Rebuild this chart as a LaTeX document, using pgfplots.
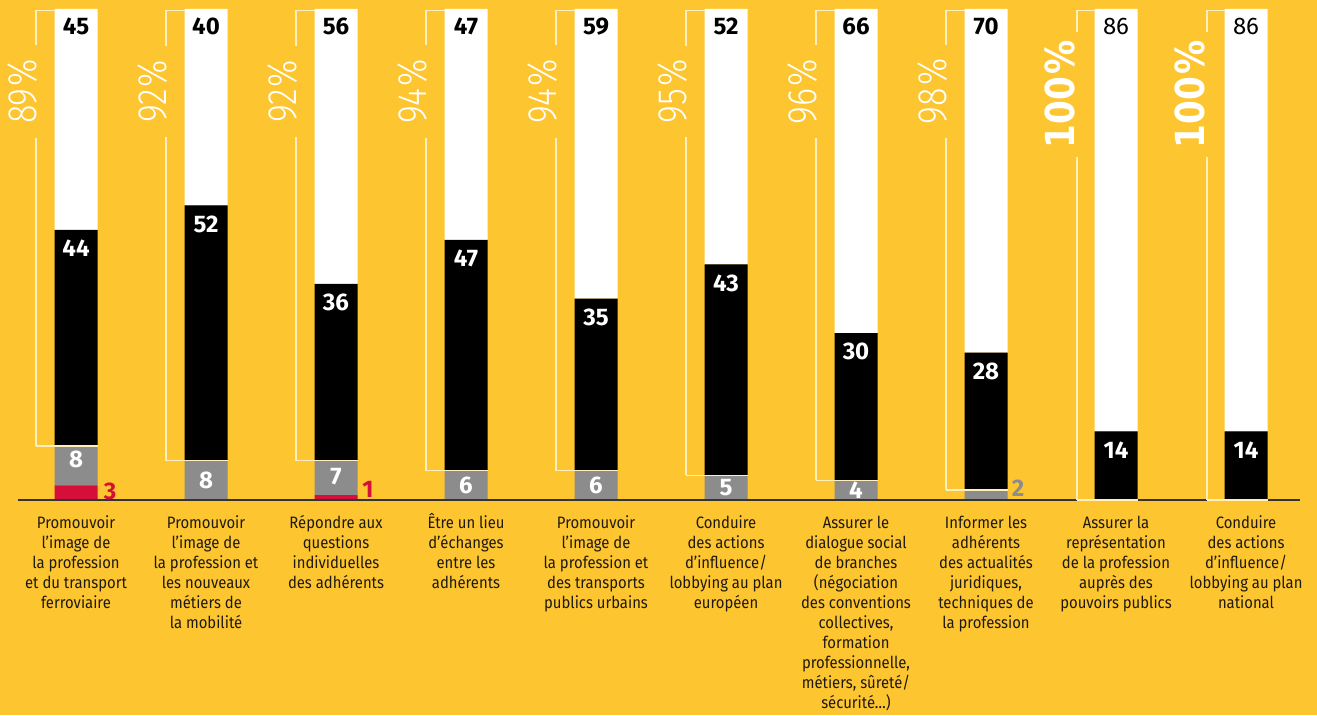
\documentclass[border=0pt]{standalone}
\usepackage{fontspec}
\setmainfont{Fira Sans}
\newfontfamily\labfont{Fira Sans}[FakeStretch=0.9]
\IfFontExistsTF{Fira Sans Light}{\newfontfamily\lightfont{Fira Sans Light}[FakeStretch=0.84]}{\newfontfamily\lightfont{DejaVu Sans}[FakeStretch=0.8]}
\IfFontExistsTF{DejaVu Sans Condensed}{\newfontfamily\hfont{DejaVu Sans Condensed}[FakeStretch=0.95]}{\newfontfamily\hfont{DejaVu Sans}[FakeStretch=0.85]}
\usepackage{pgfplots}
\pgfplotsset{compat=1.18}
\definecolor{bgc}{RGB}{253,197,48}
\definecolor{grayc}{RGB}{140,140,140}
\definecolor{redc}{RGB}{214,14,58}
\definecolor{brk}{RGB}{255,238,190}
\definecolor{labc}{RGB}{30,26,16}
\pgfplotsset{base/.style={width=1317pt, height=715pt, scale only axis,
  xmin=0, xmax=1317, ymin=-43.788, ymax=101.833,
  axis line style={draw=none}, ticks=none, clip=false}}
\begin{document}
\begin{tikzpicture}[
  num/.style={font=\bfseries\fontsize{24}{28}\selectfont, inner sep=0pt},
  pct/.style={rotate=90, fill=bgc, inner xsep=14pt, inner ysep=4pt, text=white, font=\lightfont\fontsize{41}{46}\selectfont},
  pcth/.style={rotate=90, fill=bgc, inner xsep=9pt, inner ysep=4pt, text=white, font=\hfont\bfseries\fontsize{40}{45}\selectfont},
  bk/.style={draw=brk, line width=1.4pt},
  lab/.style={align=center, anchor=north, inner sep=0pt, text=labc, font=\labfont\fontsize{16.5}{20}\selectfont},
]
\begin{axis}[base,
  axis background/.style={fill=bgc},
  ybar stacked, bar width=43pt,
]
\addplot[fill=redc, draw=none] coordinates {(76,3) (206,0) (336,1) (466,0) (596,0) (726,0) (856,0) (986,0) (1116,0) (1246,0)};
\addplot[fill=grayc, draw=none] coordinates {(76,8) (206,8) (336,7) (466,6) (596,6) (726,5) (856,4) (986,2) (1116,0) (1246,0)};
\addplot[fill=black, draw=none] coordinates {(76,44) (206,52) (336,36) (466,47) (596,35) (726,43) (856,30) (986,28) (1116,14) (1246,14)};
\addplot[fill=white, draw=none] coordinates {(76,45) (206,40) (336,56) (466,47) (596,59) (726,52) (856,66) (986,70) (1116,86) (1246,86)};
\end{axis}
\begin{axis}[base]
% baseline
\draw[line width=1.6pt, color=black!80] (axis cs:18,0) -- (axis cs:1300,0);

% brackets
\draw[bk] (axis cs:36,11) -- (axis cs:36,99.7) -- (axis cs:54.5,99.7); \draw[bk] (axis cs:36,11) -- (axis cs:97.5,11);
\draw[bk] (axis cs:166,8) -- (axis cs:166,99.7) -- (axis cs:184.5,99.7); \draw[bk] (axis cs:166,8) -- (axis cs:227.5,8);
\draw[bk] (axis cs:296,8) -- (axis cs:296,99.7) -- (axis cs:314.5,99.7); \draw[bk] (axis cs:296,8) -- (axis cs:357.5,8);
\draw[bk] (axis cs:426,6) -- (axis cs:426,99.7) -- (axis cs:444.5,99.7); \draw[bk] (axis cs:426,6) -- (axis cs:487.5,6);
\draw[bk] (axis cs:556,6) -- (axis cs:556,99.7) -- (axis cs:574.5,99.7); \draw[bk] (axis cs:556,6) -- (axis cs:617.5,6);
\draw[bk] (axis cs:686,5) -- (axis cs:686,99.7) -- (axis cs:704.5,99.7); \draw[bk] (axis cs:686,5) -- (axis cs:747.5,5);
\draw[bk] (axis cs:816,4) -- (axis cs:816,99.7) -- (axis cs:834.5,99.7); \draw[bk] (axis cs:816,4) -- (axis cs:877.5,4);
\draw[bk] (axis cs:946,2) -- (axis cs:946,99.7) -- (axis cs:964.5,99.7); \draw[bk] (axis cs:946,2) -- (axis cs:1007.5,2);
\draw[bk] (axis cs:1077,0) -- (axis cs:1077,99.7) -- (axis cs:1094.5,99.7); \draw[bk] (axis cs:1077,0) -- (axis cs:1137.5,0);
\draw[bk] (axis cs:1207,0) -- (axis cs:1207,99.7) -- (axis cs:1224.5,99.7); \draw[bk] (axis cs:1207,0) -- (axis cs:1267.5,0);

% percentages
\node[pct] at (axis cs:23,83.2) {89\kern2pt\%};
\node[pct] at (axis cs:153,83.2) {92\kern2pt\%};
\node[pct] at (axis cs:283,83.2) {92\kern2pt\%};
\node[pct] at (axis cs:413,83.2) {94\kern2pt\%};
\node[pct] at (axis cs:543,83.2) {94\kern2pt\%};
\node[pct] at (axis cs:673,83.2) {95\kern2pt\%};
\node[pct] at (axis cs:803,83.2) {96\kern2pt\%};
\node[pct] at (axis cs:933,83.2) {98\kern2pt\%};
\node[pcth] at (axis cs:1060,82.6) {100\kern2pt\%};
\node[pcth] at (axis cs:1190,82.6) {100\kern2pt\%};

% white segment labels
\node[num] at (axis cs:76,96.5) {45};
\node[num] at (axis cs:206,96.5) {40};
\node[num] at (axis cs:336,96.5) {56};
\node[num] at (axis cs:466,96.5) {47};
\node[num] at (axis cs:596,96.5) {59};
\node[num] at (axis cs:726,96.5) {52};
\node[num] at (axis cs:856,96.5) {66};
\node[num] at (axis cs:986,96.5) {70};
\node[num, font=\mdseries\fontsize{24}{28}\selectfont] at (axis cs:1116,96.5) {86};
\node[num, font=\mdseries\fontsize{24}{28}\selectfont] at (axis cs:1246,96.5) {86};

% black segment labels
\node[num, text=white] at (axis cs:76,51.2) {44};
\node[num, text=white] at (axis cs:206,56.2) {52};
\node[num, text=white] at (axis cs:336,40.2) {36};
\node[num, text=white] at (axis cs:466,49.2) {47};
\node[num, text=white] at (axis cs:596,37.2) {35};
\node[num, text=white] at (axis cs:726,44.2) {43};
\node[num, text=white] at (axis cs:856,30.2) {30};
\node[num, text=white] at (axis cs:986,26.2) {28};
\node[num, text=white] at (axis cs:1116,10.2) {14};
\node[num, text=white] at (axis cs:1246,10.2) {14};

% gray segment labels
\node[num, text=white] at (axis cs:76,8.3) {8};
\node[num, text=white] at (axis cs:206,4) {8};
\node[num, text=white] at (axis cs:336,4.7) {7};
\node[num, text=white] at (axis cs:466,3) {6};
\node[num, text=white] at (axis cs:596,3) {6};
\node[num, text=white] at (axis cs:726,2.5) {5};
\node[num, text=white] at (axis cs:856,2) {4};

% outside labels
\node[num, text=redc] at (axis cs:110,1.7) {3};
\node[num, text=redc] at (axis cs:368,2.2) {1};
\node[num, text=grayc] at (axis cs:1018,2.4) {2};

% category labels
\node[lab] at (axis cs:76,-2.75) {\rule{0pt}{15pt}Promouvoir\\l’image de\\la profession\\et du transport\\ferroviaire};
\node[lab] at (axis cs:206,-2.75) {\rule{0pt}{15pt}Promouvoir\\l’image de\\la profession et\\les nouveaux\\métiers de\\la mobilité};
\node[lab] at (axis cs:336,-2.75) {\rule{0pt}{15pt}Répondre aux\\questions\\individuelles\\des adhérents};
\node[lab] at (axis cs:466,-2.75) {\rule{0pt}{15pt}Être un lieu\\d’échanges\\entre les\\adhérents};
\node[lab] at (axis cs:596,-2.75) {\rule{0pt}{15pt}Promouvoir\\l’image de\\la profession et\\des transports\\publics urbains};
\node[lab] at (axis cs:726,-2.75) {\rule{0pt}{15pt}Conduire\\des actions\\d’influence/\\lobbying au plan\\européen};
\node[lab] at (axis cs:856,-2.75) {\rule{0pt}{15pt}Assurer le\\dialogue social\\de branches\\(négociation\\des conventions\\collectives,\\formation\\professionnelle,\\métiers, sûreté/\\sécurité…)};
\node[lab] at (axis cs:986,-2.75) {\rule{0pt}{15pt}Informer les\\adhérents\\des actualités\\juridiques,\\techniques de\\la profession};
\node[lab] at (axis cs:1116,-2.75) {\rule{0pt}{15pt}Assurer la\\représentation\\de la profession\\auprès des\\pouvoirs publics};
\node[lab] at (axis cs:1246,-2.75) {\rule{0pt}{15pt}Conduire\\des actions\\d’influence/\\lobbying au plan\\national};
\end{axis}
\end{tikzpicture}
\end{document}
